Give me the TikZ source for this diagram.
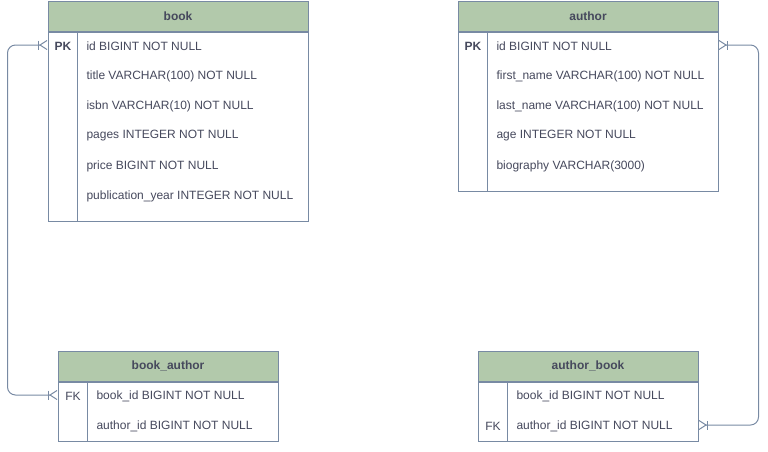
\documentclass[tikz,border=0pt]{standalone}
\usepackage{fontspec}
\setmainfont{Liberation Sans}
\usetikzlibrary{arrows.meta,positioning}
\definecolor{erfill}{HTML}{B2C9AB}
\definecolor{erline}{HTML}{788AA3}
\definecolor{ertext}{HTML}{46495D}

\begin{document}
\begin{tikzpicture}[
  x=1pt, y=-1pt, line width=1pt,
  font=\fontsize{12}{14}\selectfont, text=ertext,
  head/.style={draw=erline, fill=erfill, minimum height=30pt, inner sep=0pt,
               font=\fontsize{12}{14}\selectfont\bfseries},
  tbl/.style={draw=erline, fill=white, inner sep=0pt, anchor=north},
  key/.style={minimum width=30pt, minimum height=30pt, inner sep=0pt},
  row/.style={anchor=west, inner sep=0pt},
  rel/.style={draw=erline, rounded corners=8pt,
              {Straight Barb[reversed, length=7pt, width=9pt]Bar[width=9pt]}-{Bar[width=9pt]Straight Barb[reversed, length=7pt, width=9pt]}}
]
\useasboundingbox (0,0) rectangle (768,451);

% book
\node[head, minimum width=260pt] (bookh) at (178,16) {book};
\node[tbl, minimum width=260pt, minimum height=189pt] (bookt) at (bookh.south) {};
\draw[erline] ([xshift=30pt]bookt.north west) -- ([xshift=30pt]bookt.south west);
\node[key, font=\fontsize{12}{14}\selectfont\bfseries] (bookpk) at (63,46) {PK};
\foreach \t [count=\i] in {{id BIGINT NOT NULL}, {title VARCHAR(100) NOT NULL},
    {isbn VARCHAR(10) NOT NULL}, {pages INTEGER NOT NULL},
    {price BIGINT NOT NULL}, {publication\_year INTEGER NOT NULL}}
  \node[row] (book-\i) at (86,16+30*\i) {\t};

% author
\node[head, minimum width=260pt] (auth) at (588,16) {author};
\node[tbl, minimum width=260pt, minimum height=159pt] (autt) at (auth.south) {};
\draw[erline] ([xshift=30pt]autt.north west) -- ([xshift=30pt]autt.south west);
\node[key, font=\fontsize{12}{14}\selectfont\bfseries] (autpk) at (473,46) {PK};
\foreach \t [count=\i] in {{id BIGINT NOT NULL}, {first\_name VARCHAR(100) NOT NULL},
    {last\_name VARCHAR(100) NOT NULL}, {age INTEGER NOT NULL},
    {biography VARCHAR(3000)}}
  \node[row] (aut-\i) at (496,16+30*\i) {\t};

% book_author
\node[head, minimum width=220pt] (bah) at (168,366) {book\_author};
\node[tbl, minimum width=220pt, minimum height=59pt] (bat) at (bah.south) {};
\draw[erline] ([xshift=30pt]bat.north west) -- ([xshift=30pt]bat.south west);
\node[key] (bafk) at (73,396) {FK};
\foreach \t [count=\i] in {{book\_id BIGINT NOT NULL}, {author\_id BIGINT NOT NULL}}
  \node[row] (ba-\i) at (96,366+30*\i) {\t};

% author_book
\node[head, minimum width=220pt] (abh) at (588,366) {author\_book};
\node[tbl, minimum width=220pt, minimum height=59pt] (abt) at (abh.south) {};
\draw[erline] ([xshift=30pt]abt.north west) -- ([xshift=30pt]abt.south west);
\node[key] (abfk) at (493,426) {FK};
\foreach \t [count=\i] in {{book\_id BIGINT NOT NULL}, {author\_id BIGINT NOT NULL}}
  \node[row] (ab-\i) at (516,366+30*\i) {\t};

% relations
\draw[rel] ([yshift=1pt]bookpk.west) -- ++(-40,0) |- ([yshift=1pt]bafk.west);
\draw[rel] ([yshift=1pt]autt.east |- autpk) -- ++(40,0) |- ([yshift=1pt]abt.east |- abfk);
\end{tikzpicture}
\end{document}
